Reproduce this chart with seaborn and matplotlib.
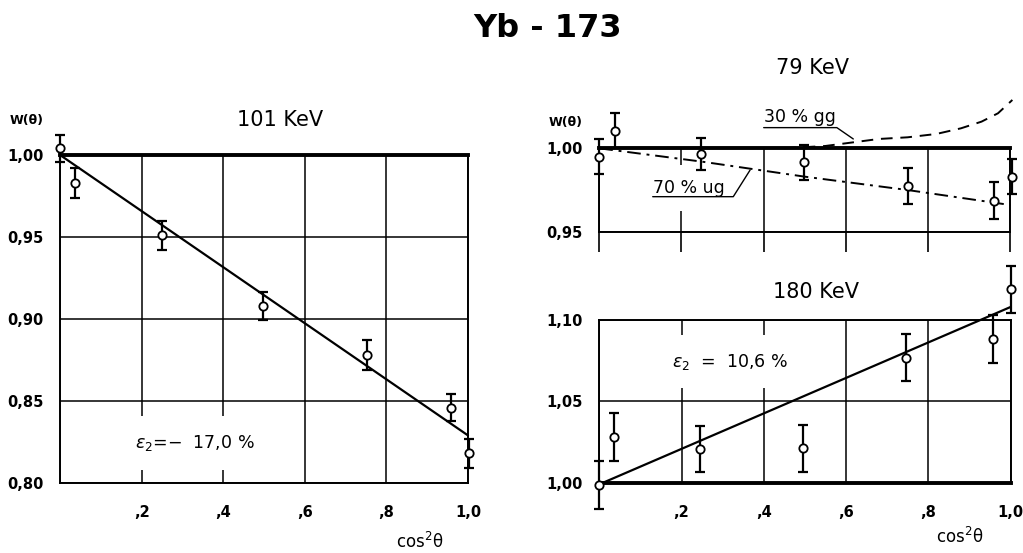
import matplotlib
matplotlib.use("Agg")
import matplotlib.pyplot as plt
import seaborn as sns

sns.set_theme(style="white")
plt.rcParams['font.family'] = ['DejaVu Sans']
plt.rcParams['mathtext.fontset'] = 'dejavusans'
plt.rcParams['text.color'] = 'black'
plt.rcParams['xtick.color'] = 'black'
plt.rcParams['ytick.color'] = 'black'
plt.rcParams['axes.labelcolor'] = 'black'

# 101 KeV
x_101 = [0.0, 0.037, 0.249, 0.498, 0.753, 0.959, 1.002]
w_101 = [1.004, 0.983, 0.951, 0.908, 0.878, 0.846, 0.818]
err_101 = [0.008, 0.009, 0.0087, 0.0086, 0.009, 0.0085, 0.0087]
fit_x_101 = [0.0, 1.0]
fit_w_101 = [1.0, 0.829]

# 79 KeV
x_79 = [0.0, 0.038, 0.247, 0.499, 0.750, 0.961, 1.004]
w_79 = [0.995, 1.0106, 0.9966, 0.9916, 0.9774, 0.9686, 0.983]
err_79 = [0.0103, 0.0107, 0.0098, 0.0105, 0.0108, 0.011, 0.0105]
ug_x = [0.0, 0.25, 0.5, 0.75, 1.0]
ug_w = [1.0, 0.992, 0.983, 0.975, 0.966]
gg_x = [0.45, 0.55, 0.68, 0.75, 0.82, 0.88, 0.93, 0.97, 1.005]
gg_w = [1.0, 1.0014, 1.0056, 1.0066, 1.0086, 1.012, 1.016, 1.021, 1.029]

# 180 KeV
x_180 = [0.0, 0.036, 0.245, 0.496, 0.745, 0.958, 1.002]
w_180 = [0.9986, 1.0279, 1.0205, 1.0211, 1.0768, 1.0883, 1.1189]
err_180 = [0.0145, 0.0148, 0.0142, 0.0145, 0.0145, 0.015, 0.0143]
fit_x_180 = [0.0, 1.0]
fit_w_180 = [0.999, 1.108]

x_ticks = [0.0, 0.2, 0.4, 0.6, 0.8, 1.0]
x_labels = ['', ',2', ',4', ',6', ',8', '1,0']
y_ticks_101 = [0.80, 0.85, 0.90, 0.95, 1.00]
y_labels_101 = ['0,80', '0,85', '0,90', '0,95', '1,00']
y_ticks_79 = [0.95, 1.00]
y_labels_79 = ['0,95', '1,00']
y_ticks_180 = [1.00, 1.05, 1.10]
y_labels_180 = ['1,00', '1,05', '1,10']


def setup_axes(ax, yticks, ylabels, xlabels):
    ax.set_xlim(0, 1)
    ax.set_ylim(yticks[0], yticks[-1])
    ax.set_xticks(x_ticks)
    ax.set_xticklabels(xlabels, fontsize=10.5, fontweight='bold')
    ax.set_yticks(yticks)
    ax.set_yticklabels(ylabels, fontsize=10.5, fontweight='bold')
    ax.tick_params(length=0, pad=12)
    ax.tick_params(axis='x', pad=16)
    ax.grid(True, color='black', lw=1.1)
    ax.set_axisbelow(True)
    for s in ax.spines.values():
        s.set_visible(True)
        s.set_color('black')
        s.set_linewidth(1.4)


def draw_points(ax, x, w, err):
    eb = ax.errorbar(x, w, yerr=err, fmt='none', ecolor='black', elinewidth=1.6,
                     capsize=3.6, capthick=1.6, zorder=4)
    for child in eb.get_children():
        child.set_clip_on(False)
    sns.scatterplot(x=x, y=w, ax=ax, marker='o', s=36, color='white',
                    edgecolor='black', linewidth=1.3, zorder=5, clip_on=False)


fig = plt.figure(figsize=(10.23, 5.53), dpi=100)
ax1 = fig.add_axes([0.0587, 0.1266, 0.3988, 0.5931])
ax2 = fig.add_axes([0.5858, 0.5810, 0.4018, 0.1508])
ax3 = fig.add_axes([0.5858, 0.1271, 0.4020, 0.2942])

# 101 KeV panel
setup_axes(ax1, y_ticks_101, y_labels_101, x_labels)
ax1.spines['top'].set_linewidth(2.8)
sns.lineplot(x=fit_x_101, y=fit_w_101, ax=ax1, color='black', lw=1.6, zorder=3, clip_on=False)
draw_points(ax1, x_101, w_101, err_101)
ax1.text(0.331, 0.8244, r'$\varepsilon_2$=−  17,0 %', fontsize=12.5, ha='center', va='center',
         zorder=1.5, bbox=dict(facecolor='white', edgecolor='none', pad=12))

# 79 KeV panel
setup_axes(ax2, y_ticks_79, y_labels_79, [''] * 6)
ax2.spines['top'].set_linewidth(2.8)
ax2.vlines(x_ticks, 0.938, 0.95, color='black', lw=1.2, clip_on=False)
sns.lineplot(x=ug_x, y=ug_w, ax=ax2, color='black', lw=1.4, dashes=False, zorder=3, clip_on=False)
ax2.lines[-1].set_dashes([7, 3, 1.5, 3])
sns.lineplot(x=gg_x, y=gg_w, ax=ax2, color='black', lw=1.4, zorder=3, clip_on=False)
ax2.lines[-1].set_dashes([6, 4])
draw_points(ax2, x_79, w_79, err_79)
ax2.text(0.488, 1.0188, '30 % gg', fontsize=12.5, ha='center', va='center')
ax2.plot([0.40, 0.578, 0.618], [1.0124, 1.0124, 1.0056], color='black', lw=1.0, clip_on=False)
ax2.text(0.218, 0.976, '70 % ug', fontsize=12.5, ha='center', va='center',
         zorder=1.5, bbox=dict(facecolor='white', edgecolor='none', pad=10))
ax2.plot([0.13, 0.326, 0.367], [0.971, 0.971, 0.987], color='black', lw=1.0, zorder=3)

# 180 KeV panel
setup_axes(ax3, y_ticks_180, y_labels_180, x_labels)
ax3.spines['bottom'].set_linewidth(2.8)
sns.lineplot(x=fit_x_180, y=fit_w_180, ax=ax3, color='black', lw=1.6, zorder=3, clip_on=False)
draw_points(ax3, x_180, w_180, err_180)
ax3.text(0.318, 1.0745, r'$\varepsilon_2$  =  10,6 %', fontsize=12.5, ha='center', va='center',
         zorder=1.5, bbox=dict(facecolor='white', edgecolor='none', pad=12))

for ax in (ax1, ax2, ax3):
    ax.set_xlabel('')
    ax.set_ylabel('')

# titles and labels
fig.text(0.535, 0.948, 'Yb - 173', fontsize=23, fontweight='bold', ha='center', va='center')
fig.text(0.2737, 0.783, '101 KeV', fontsize=15, ha='center', va='center')
fig.text(0.794, 0.877, '79 KeV', fontsize=15, ha='center', va='center')
fig.text(0.7977, 0.472, '180 KeV', fontsize=15, ha='center', va='center')
fig.text(0.026, 0.783, 'W(θ)', fontsize=9, fontweight='bold', ha='center', va='center')
fig.text(0.553, 0.779, 'W(θ)', fontsize=9, fontweight='bold', ha='center', va='center')
fig.text(0.4106, 0.020, r'cos$^2$θ', fontsize=12, ha='center', va='center')
fig.text(0.938, 0.029, r'cos$^2$θ', fontsize=12, ha='center', va='center')

fig.savefig('out.png', dpi=100, facecolor='white')
